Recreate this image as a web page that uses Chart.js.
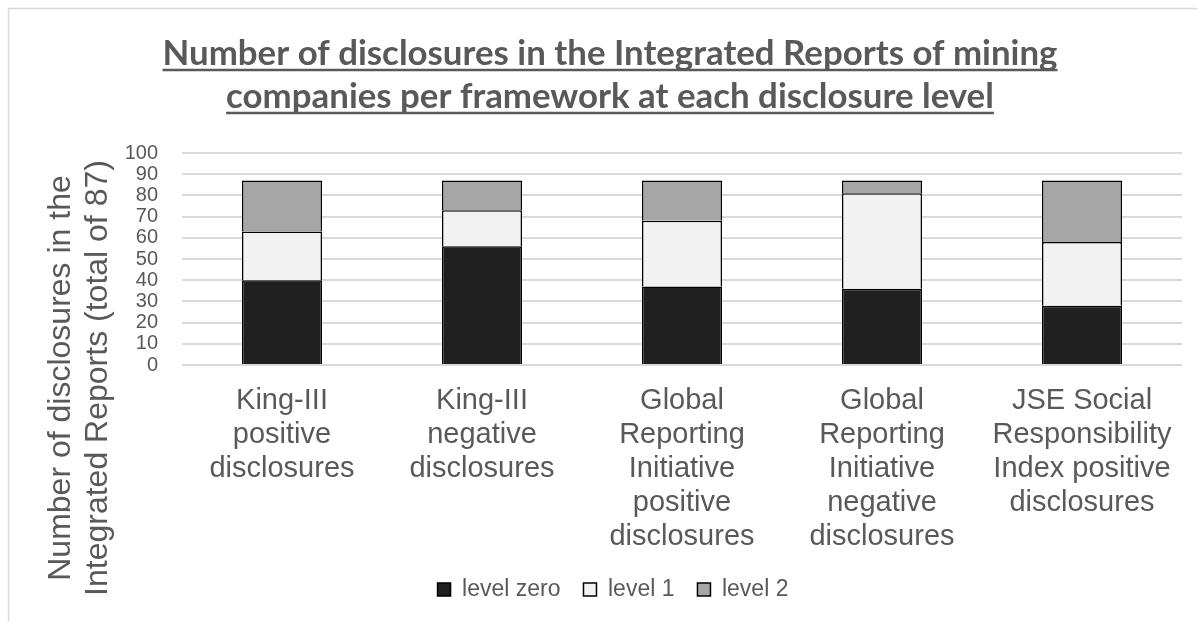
<!DOCTYPE html>
<html>
<head>
<meta charset="utf-8">
<script src="https://cdn.jsdelivr.net/npm/chart.js@4/dist/chart.umd.min.js"></script>
<style>
    html, body { margin: 0; padding: 0; background: #fff; }
    #wrap { position: relative; width: 1204px; height: 621px; }
</style>
</head>
<body>
<div id="wrap"><canvas id="chart" width="1204" height="621"></canvas></div>
<script>
// Data
const categories = [
    ['King-III', 'positive', 'disclosures'],
    ['King-III', 'negative', 'disclosures'],
    ['Global', 'Reporting', 'Initiative', 'positive', 'disclosures'],
    ['Global', 'Reporting', 'Initiative', 'negative', 'disclosures'],
    ['JSE Social', 'Responsibility', 'Index positive', 'disclosures']
];
const levelZero = [40, 56, 37, 36, 28];
const levelOne = [23, 17, 31, 45, 30];
const levelTwo = [24, 14, 19, 6, 29];
const seriesNames = ['level zero', 'level 1', 'level 2'];
const yMax = 100;
const yStep = 10;

const chartTitle = [
    'Number of disclosures in the Integrated Reports of mining',
    'companies per framework at each disclosure level'
];
const yAxisTitle = ['Number of disclosures in the', 'Integrated Reports (total of 87)'];

const textColor = '#595959';
const gridColor = '#d9d9d9';

// Draws the frame, the underlined title and the y axis title
const decorPlugin = {
    id: 'decor',
    beforeDraw(chart) {
        const ctx = chart.ctx;
        ctx.save();
        ctx.strokeStyle = gridColor;
        ctx.lineWidth = 1.5;
        ctx.beginPath();
        ctx.moveTo(8.5, 621);
        ctx.lineTo(8.5, 8.5);
        ctx.lineTo(1197, 8.5);
        ctx.stroke();
        ctx.restore();
    },
    afterDraw(chart) {
        const ctx = chart.ctx;
        ctx.save();
        ctx.fillStyle = textColor;
        ctx.strokeStyle = textColor;

        // title, sized so the first line spans like the reference
        ctx.font = 'bold 32px Lato';
        const w0 = ctx.measureText(chartTitle[0]).width;
        const size = 32 * 895 / w0;
        ctx.font = `bold ${size}px Lato`;
        ctx.textAlign = 'center';
        ctx.textBaseline = 'alphabetic';
        const cx = 610;
        const baselines = [65, 108];
        chartTitle.forEach((line, i) => {
            ctx.fillText(line, cx, baselines[i]);
            const lw = ctx.measureText(line).width;
            ctx.lineWidth = 2.5;
            ctx.beginPath();
            ctx.moveTo(cx - lw / 2, baselines[i] + 5);
            ctx.lineTo(cx + lw / 2, baselines[i] + 5);
            ctx.stroke();
        });

        // rotated y axis title
        ctx.font = '32px "Liberation Sans", Arial';
        ctx.textBaseline = 'middle';
        const xs = [61, 98];
        yAxisTitle.forEach((line, i) => {
            ctx.save();
            ctx.translate(xs[i], 378);
            ctx.rotate(-Math.PI / 2);
            ctx.fillText(line, 0, 0);
            ctx.restore();
        });
        ctx.restore();
    }
};

const barStyle = {
    borderColor: '#000000',
    borderWidth: 1.5,
    categoryPercentage: 1.0,
    barPercentage: 0.4
};

new Chart(document.getElementById('chart'), {
    type: 'bar',
    data: {
        labels: categories,
        datasets: [
            { label: seriesNames[0], data: levelZero, backgroundColor: '#202020', ...barStyle },
            { label: seriesNames[1], data: levelOne, backgroundColor: '#f2f2f2', ...barStyle },
            { label: seriesNames[2], data: levelTwo, backgroundColor: '#a6a6a6', ...barStyle }
        ]
    },
    options: {
        responsive: false,
        animation: false,
        layout: {
            autoPadding: false,
            padding: { top: 153, left: 22, right: 0, bottom: 10 }
        },
        plugins: {
            title: { display: false },
            tooltip: { enabled: false },
            legend: {
                position: 'bottom',
                labels: {
                    boxWidth: 13,
                    boxHeight: 13,
                    padding: 23,
                    color: textColor,
                    font: { family: '"Liberation Sans", Arial', size: 23 }
                }
            }
        },
        scales: {
            x: {
                stacked: true,
                grid: { display: false },
                border: { display: false },
                ticks: {
                    color: textColor,
                    padding: 11,
                    maxRotation: 0,
                    autoSkip: false,
                    font: { family: '"Liberation Sans", Arial', size: 29, lineHeight: 1.17 }
                },
                afterFit: scale => { scale.height = 190; }
            },
            y: {
                stacked: true,
                min: 0,
                max: yMax,
                grid: { color: gridColor, lineWidth: 2, drawTicks: false },
                border: { display: false },
                ticks: {
                    stepSize: yStep,
                    autoSkip: false,
                    color: textColor,
                    padding: 24,
                    font: { family: '"Liberation Sans", Arial', size: 20 }
                },
                afterFit: scale => { scale.width = 160; }
            },
            spacer: {
                position: 'right',
                grid: { display: false },
                border: { display: false },
                ticks: { display: false },
                afterFit: scale => { scale.width = 22; }
            }
        }
    },
    plugins: [decorPlugin]
});
</script>
</body>
</html>
